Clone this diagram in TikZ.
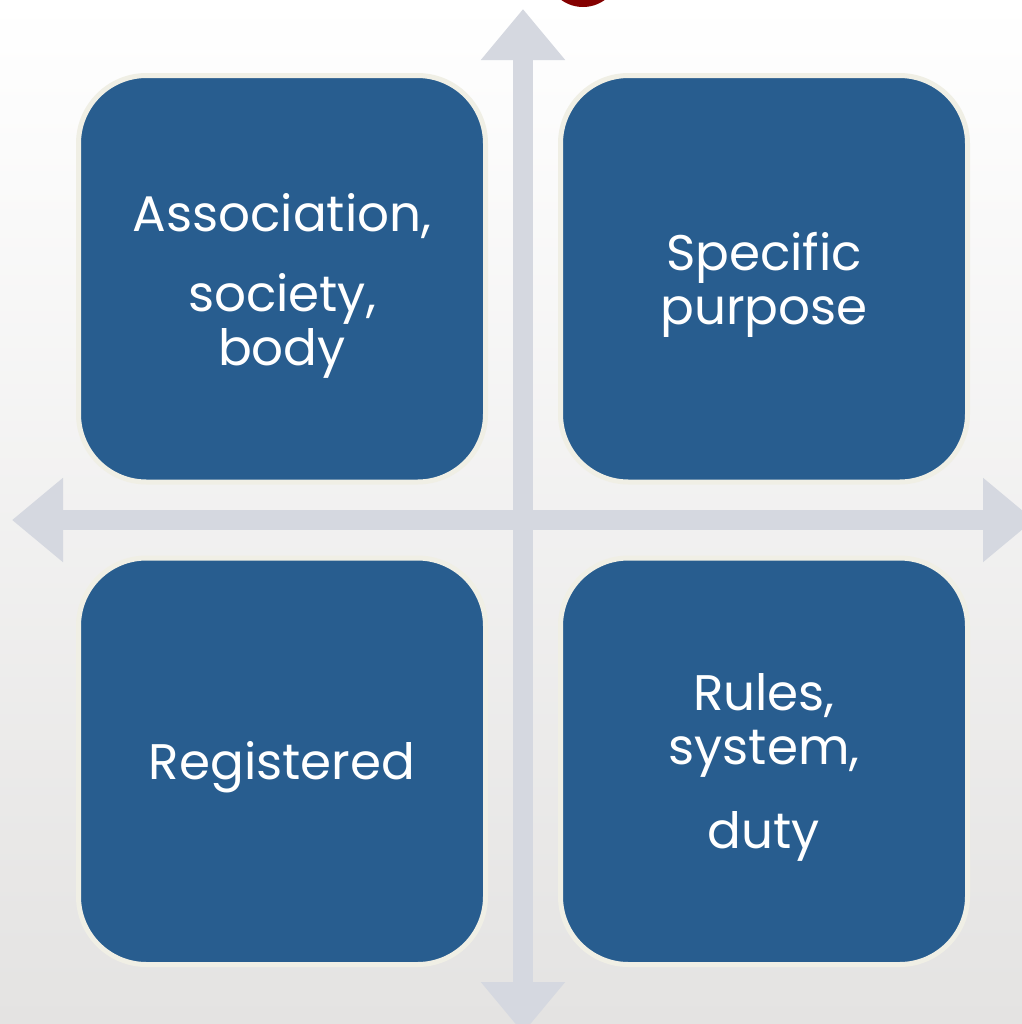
\documentclass[tikz,border=0pt]{standalone}
\usepackage{fontspec}
\setmainfont{Poppins}
\usetikzlibrary{arrows.meta}
\definecolor{boxblue}{HTML}{285D8F}
\definecolor{boxrim}{HTML}{F0EFE5}
\definecolor{axisgray}{HTML}{D5D8E0}
\definecolor{dotred}{HTML}{840000}
\definecolor{bgbottom}{HTML}{E4E3E2}
\begin{document}
\begin{tikzpicture}[x=0.5pt,y=-0.5pt,
    quadbox/.style={draw=boxrim, fill=boxblue, line width=2.5pt,
        rounded corners=34pt, minimum width=203.5pt, minimum height=203.25pt,
        inner sep=0pt},
    quadtext/.style={text=white, align=center, inner sep=0pt,
        font=\fontsize{25}{27}\selectfont},
    axis/.style={draw=axisgray, line width=10pt,
        {Triangle[width=40.5pt,length=25.5pt]}-{Triangle[width=40.5pt,length=25.5pt]}}]
    % background
    \shade[top color=white, bottom color=bgbottom] (0,0) rectangle (1022,1024);
    \useasboundingbox (0,0) rectangle (1022,1024);
    \fill[dotred] (583,-30) circle (18.5pt);
    % axes
    \coordinate (north) at (523,9);
    \coordinate (south) at (523,1033);
    \coordinate (west) at (12,520);
    \coordinate (east) at (1034,520);
    \draw[axis] (north) -- (south);
    \draw[axis] (west) -- (east);
    % quadrants
    \node[quadbox] (assoc) at (282,278.75) {};
    \node[quadbox] (purpose) at (764,278.75) {};
    \node[quadbox] (registered) at (282,761.25) {};
    \node[quadbox] (rules) at (764,761.25) {};
    \node[quadtext] (assoctext) at ([yshift=-3.5pt]assoc.center) {Association,\\[13pt] society,\\ body};
    \node[quadtext] (purposetext) at ([yshift=-3pt]purpose.center) {Specific\\ purpose};
    \node[quadtext] (registeredtext) at ([yshift=-3pt]registered.center) {Registered};
    \node[quadtext] (rulestext) at ([yshift=-3pt]rules.center) {Rules,\\ system,\\[15pt] duty};
\end{tikzpicture}
\end{document}
